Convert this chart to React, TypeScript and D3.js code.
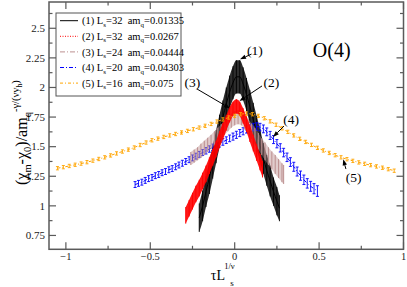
import React from 'react';
import * as d3 from 'd3';

const W = 407;
const H = 287;

const xTicks = [-1, -0.5, 0, 0.5, 1];
const yTicks = [0.75, 1, 1.25, 1.5, 1.75, 2, 2.25, 2.5];

// [tau*L^(1/nu), value, error]
const s1: [number, number, number][] = [
  [-0.21, 0.9, 0.12], [-0.19, 1.0, 0.13], [-0.17, 1.12, 0.13], [-0.15, 1.24, 0.14],
  [-0.13, 1.37, 0.14], [-0.11, 1.5, 0.14], [-0.09, 1.63, 0.14], [-0.07, 1.75, 0.14],
  [-0.05, 1.86, 0.14], [-0.03, 1.96, 0.14], [-0.01, 2.04, 0.14], [0.01, 2.09, 0.14],
  [0.03, 2.09, 0.14], [0.05, 2.03, 0.14], [0.07, 1.94, 0.14], [0.09, 1.84, 0.14],
  [0.11, 1.73, 0.14], [0.13, 1.62, 0.14], [0.15, 1.51, 0.14], [0.17, 1.4, 0.13],
  [0.19, 1.3, 0.13], [0.21, 1.21, 0.13], [0.23, 1.12, 0.12], [0.25, 1.04, 0.12],
  [0.265, 0.98, 0.11],
];

const s2: [number, number, number][] = [
  [-0.29, 0.92, 0.07], [-0.27, 0.98, 0.07], [-0.25, 1.04, 0.07], [-0.23, 1.1, 0.07],
  [-0.21, 1.15, 0.07], [-0.19, 1.21, 0.07], [-0.17, 1.27, 0.07], [-0.15, 1.34, 0.07],
  [-0.13, 1.41, 0.07], [-0.11, 1.48, 0.07], [-0.09, 1.56, 0.07], [-0.07, 1.63, 0.07],
  [-0.05, 1.7, 0.065], [-0.03, 1.77, 0.065], [-0.01, 1.82, 0.06], [0.01, 1.84, 0.06],
  [0.03, 1.82, 0.06], [0.05, 1.76, 0.065], [0.07, 1.69, 0.065], [0.09, 1.61, 0.07],
  [0.11, 1.53, 0.07], [0.13, 1.45, 0.07], [0.15, 1.37, 0.07], [0.165, 1.31, 0.07],
];

const s3: [number, number, number][] = [
  [-0.26, 1.4, 0.055], [-0.24, 1.42, 0.055], [-0.22, 1.44, 0.055], [-0.2, 1.465, 0.06],
  [-0.18, 1.49, 0.06], [-0.16, 1.515, 0.06], [-0.14, 1.54, 0.06], [-0.12, 1.57, 0.06],
  [-0.1, 1.6, 0.06], [-0.08, 1.63, 0.06], [-0.06, 1.66, 0.06], [-0.04, 1.69, 0.06],
  [-0.02, 1.72, 0.06], [0.0, 1.74, 0.06], [0.02, 1.75, 0.06], [0.04, 1.74, 0.06],
  [0.06, 1.71, 0.065], [0.08, 1.67, 0.065], [0.1, 1.63, 0.065], [0.12, 1.59, 0.07],
  [0.14, 1.545, 0.07], [0.16, 1.5, 0.07], [0.18, 1.46, 0.075], [0.2, 1.42, 0.075],
  [0.22, 1.385, 0.075], [0.24, 1.35, 0.08], [0.26, 1.315, 0.08], [0.28, 1.28, 0.08],
  [0.29, 1.265, 0.08],
];

const s4: [number, number, number][] = [
  [-0.59, 1.18, 0.025], [-0.57, 1.19, 0.025], [-0.55, 1.2, 0.025], [-0.53, 1.215, 0.025],
  [-0.51, 1.23, 0.025], [-0.49, 1.24, 0.025], [-0.47, 1.255, 0.025], [-0.45, 1.265, 0.025],
  [-0.43, 1.28, 0.025], [-0.41, 1.29, 0.025], [-0.39, 1.305, 0.025], [-0.37, 1.315, 0.025],
  [-0.35, 1.33, 0.025], [-0.33, 1.345, 0.025], [-0.31, 1.36, 0.025], [-0.29, 1.375, 0.025],
  [-0.27, 1.39, 0.025], [-0.25, 1.405, 0.025], [-0.23, 1.42, 0.025], [-0.21, 1.435, 0.025],
  [-0.19, 1.45, 0.025], [-0.17, 1.465, 0.027], [-0.15, 1.48, 0.027], [-0.13, 1.495, 0.027],
  [-0.11, 1.51, 0.027], [-0.09, 1.525, 0.028], [-0.07, 1.54, 0.028], [-0.05, 1.555, 0.028],
  [-0.03, 1.57, 0.028], [-0.01, 1.585, 0.03], [0.01, 1.6, 0.03], [0.03, 1.615, 0.03],
  [0.05, 1.63, 0.03], [0.07, 1.645, 0.03], [0.09, 1.655, 0.03], [0.11, 1.665, 0.032],
  [0.13, 1.67, 0.032], [0.15, 1.665, 0.032], [0.17, 1.65, 0.033], [0.19, 1.625, 0.033],
  [0.21, 1.595, 0.034], [0.23, 1.56, 0.034], [0.25, 1.525, 0.035], [0.27, 1.49, 0.035],
  [0.29, 1.45, 0.036], [0.31, 1.41, 0.036], [0.33, 1.37, 0.037], [0.35, 1.33, 0.038],
  [0.37, 1.29, 0.038], [0.39, 1.255, 0.039], [0.41, 1.22, 0.04], [0.43, 1.19, 0.04],
  [0.45, 1.165, 0.042], [0.47, 1.145, 0.043], [0.49, 1.125, 0.045],
];

const s5: [number, number, number][] = [
  [-1.05, 1.318, 0.014], [-1.015, 1.327, 0.014], [-0.98, 1.337, 0.014], [-0.945, 1.347, 0.014],
  [-0.91, 1.357, 0.014], [-0.875, 1.369, 0.014], [-0.84, 1.382, 0.014], [-0.805, 1.396, 0.014],
  [-0.77, 1.41, 0.014], [-0.735, 1.426, 0.014], [-0.7, 1.443, 0.014], [-0.665, 1.459, 0.014],
  [-0.63, 1.475, 0.014], [-0.595, 1.493, 0.014], [-0.56, 1.514, 0.014], [-0.525, 1.535, 0.014],
  [-0.49, 1.554, 0.014], [-0.455, 1.568, 0.014], [-0.42, 1.582, 0.014], [-0.385, 1.595, 0.014],
  [-0.35, 1.607, 0.014], [-0.315, 1.62, 0.014], [-0.28, 1.633, 0.014], [-0.245, 1.647, 0.014],
  [-0.21, 1.661, 0.014], [-0.175, 1.676, 0.014], [-0.14, 1.692, 0.014], [-0.105, 1.712, 0.014],
  [-0.07, 1.73, 0.014], [-0.035, 1.746, 0.014], [0.0, 1.76, 0.014], [0.035, 1.774, 0.014],
  [0.07, 1.779, 0.014], [0.105, 1.774, 0.014], [0.14, 1.76, 0.014], [0.175, 1.74, 0.014],
  [0.21, 1.714, 0.014], [0.245, 1.685, 0.014], [0.28, 1.655, 0.014], [0.315, 1.625, 0.014],
  [0.35, 1.595, 0.014], [0.385, 1.566, 0.014], [0.42, 1.54, 0.014], [0.455, 1.515, 0.014],
  [0.49, 1.49, 0.014], [0.525, 1.468, 0.014], [0.56, 1.447, 0.014], [0.595, 1.428, 0.014],
  [0.63, 1.41, 0.014], [0.665, 1.394, 0.014], [0.7, 1.38, 0.014], [0.735, 1.367, 0.014],
  [0.77, 1.355, 0.014], [0.805, 1.344, 0.014], [0.84, 1.333, 0.014], [0.875, 1.322, 0.014],
  [0.91, 1.31, 0.014], [0.945, 1.297, 0.014],
];

const legendIds = ['(1)', '(2)', '(3)', '(4)', '(5)'];
const legendL = ['32', '32', '24', '20', '16'];
const legendAm = ['0.01335', '0.0267', '0.04444', '0.04303', '0.075'];
const legendColors = ['#000000', '#ff0000', '#bc8f8f', '#0000ff', '#ffa500'];
const legendDash = ['none', '1,1.5', '5,2,1,2', '4,2,1,2', '3,2,1,2'];

// annotation labels: [label, labelTau, labelVal, fromTau, fromVal, toTau, toVal]
const annotations: [string, number, number, number, number, number, number][] = [
  ['(1)', 0.12, 2.317, 0.0996, 2.282, 0.0315, 2.238],
  ['(2)', 0.218, 2.046, 0.162, 2.013, 0.0285, 1.886],
  ['(3)', -0.25, 2.046, -0.223, 1.987, -0.028, 1.824],
  ['(4)', 0.334, 1.734, 0.292, 1.674, 0.227, 1.582],
  ['(5)', 0.704, 1.244, 0.659, 1.311, 0.643, 1.393],
];

const FONT = 'Liberation Serif, DejaVu Serif, Times New Roman, serif';

export default function App() {
  const x = d3.scaleLinear().domain([-1.1, 1]).range([49, 403.5]);
  const y = d3.scaleLinear().domain([0.633, 2.722]).range([249.3, 2]);
  const [x0, x1] = x.range();
  const [yb, yt] = y.range();
  const frame = '#5a5a5a';

  const xMinor = d3.range(-1, 1.001, 0.25).filter((v) => !xTicks.some((t) => Math.abs(t - v) < 1e-6));
  const yMinor = d3.range(0.625, 2.75, 0.125).filter(
    (v) => v > 0.634 && v < 2.72 && !yTicks.some((t) => Math.abs(t - v) < 1e-6)
  );

  const band = (data: [number, number, number][]) =>
    d3
      .area<[number, number, number]>()
      .x((d) => x(d[0]))
      .y0((d) => y(d[1] - d[2]))
      .y1((d) => y(d[1] + d[2]))
      .curve(d3.curveMonotoneX)(data) || '';
  const line = (data: [number, number, number][]) =>
    d3
      .line<[number, number, number]>()
      .x((d) => x(d[0]))
      .y((d) => y(d[1]))
      .curve(d3.curveMonotoneX)(data) || '';

  const bars = (data: [number, number, number][], color: string, cap: number, sw: number, key: string) =>
    data.map((d, i) => (
      <g key={key + i}>
        <line x1={x(d[0])} x2={x(d[0])} y1={y(d[1] - d[2])} y2={y(d[1] + d[2])} stroke={color} strokeWidth={sw} />
        {cap > 0 && (
          <>
            <line x1={x(d[0]) - cap} x2={x(d[0]) + cap} y1={y(d[1] - d[2])} y2={y(d[1] - d[2])} stroke={color} strokeWidth={sw} />
            <line x1={x(d[0]) - cap} x2={x(d[0]) + cap} y1={y(d[1] + d[2])} y2={y(d[1] + d[2])} stroke={color} strokeWidth={sw} />
          </>
        )}
      </g>
    ));

  const arrow = (fx: number, fy: number, tx: number, ty: number, key: string) => {
    const ang = Math.atan2(ty - fy, tx - fx);
    const len = 6;
    const wdt = 2.2;
    const bx = tx - len * Math.cos(ang);
    const by = ty - len * Math.sin(ang);
    const px = -Math.sin(ang) * wdt;
    const py = Math.cos(ang) * wdt;
    return (
      <g key={key}>
        <line x1={fx} y1={fy} x2={bx} y2={by} stroke="#000" strokeWidth={1} />
        <path d={`M${tx},${ty}L${bx + px},${by + py}L${bx - px},${by - py}Z`} fill="#000" />
      </g>
    );
  };

  const cx = (x0 + x1) / 2;
  const cy = (yb + yt) / 2;

  return (
    <svg width={W} height={H} style={{ position: 'absolute', left: 0, top: 0, background: '#fff', fontFamily: FONT }}>
      <rect x={0} y={0} width={W} height={H} fill="#fff" />
      <defs>
        <clipPath id="plot">
          <rect x={x0} y={yt} width={x1 - x0} height={yb - yt} />
        </clipPath>
      </defs>

      <g clipPath="url(#plot)">
        {/* series 1 black */}
        <path d={band(s1)} fill="#2e2e2e" />
        {bars(s1, '#000', 0, 0.9, 'b1')}
        <path d={line(s1)} fill="none" stroke="#000" strokeWidth={1} />

        {/* series 4 blue */}
        <path d={line(s4)} fill="none" stroke="#0000ff" strokeWidth={1} strokeDasharray="4,2,1,2" />
        {bars(s4, '#0000ff', 1.5, 0.9, 'b4')}

        {/* series 3 rosy brown */}
        <path d={band(s3)} fill="#bc8f8f" fillOpacity={0.45} />
        {bars(s3, '#bc8f8f', 0, 1, 'b3')}

        {/* series 2 red */}
        <path d={band(s2)} fill="#ff0000" fillOpacity={0.9} />
        {bars(s2, '#ff0000', 0, 1, 'b2')}

        {/* series 5 orange */}
        <path d={line(s5)} fill="none" stroke="#ffa500" strokeWidth={1} strokeDasharray="3,2,1,2" />
        {bars(s5, '#ffa500', 1.5, 0.9, 'b5')}
      </g>

      {/* frame */}
      <rect x={x0} y={yt} width={x1 - x0} height={yb - yt} fill="none" stroke={frame} strokeWidth={1.5} />

      {/* ticks */}
      {xTicks.map((t) => (
        <g key={'xt' + t}>
          <line x1={x(t)} x2={x(t)} y1={yb} y2={yb - 7} stroke={frame} strokeWidth={1.2} />
          <line x1={x(t)} x2={x(t)} y1={yt} y2={yt + 7} stroke={frame} strokeWidth={1.2} />
          <text x={x(t)} y={yb + 11} fontSize={10.5} textAnchor="middle" fill="#222">
            {d3.format('')(t)}
          </text>
        </g>
      ))}
      {xMinor.map((t) => (
        <g key={'xm' + t}>
          <line x1={x(t)} x2={x(t)} y1={yb} y2={yb - 3.5} stroke={frame} strokeWidth={1.2} />
          <line x1={x(t)} x2={x(t)} y1={yt} y2={yt + 3.5} stroke={frame} strokeWidth={1.2} />
        </g>
      ))}
      {yTicks.map((t) => (
        <g key={'yt' + t}>
          <line x1={x0} x2={x0 + 7} y1={y(t)} y2={y(t)} stroke={frame} strokeWidth={1.2} />
          <line x1={x1} x2={x1 - 7} y1={y(t)} y2={y(t)} stroke={frame} strokeWidth={1.2} />
          <text x={x0 - 4} y={y(t) + 3.8} fontSize={11} textAnchor="end" fill="#222">
            {d3.format('')(t)}
          </text>
        </g>
      ))}
      {yMinor.map((t) => (
        <g key={'ym' + t}>
          <line x1={x0} x2={x0 + 3.5} y1={y(t)} y2={y(t)} stroke={frame} strokeWidth={1.2} />
          <line x1={x1} x2={x1 - 3.5} y1={y(t)} y2={y(t)} stroke={frame} strokeWidth={1.2} />
        </g>
      ))}

      {/* axis labels */}
      <text x={cx - 15.5} y={279.5} fontSize={14} fill="#000">τL</text>
      <text x={cx + 4} y={285.5} fontSize={9} fill="#000">s</text>
      <text x={cx - 2} y={268.5} fontSize={8.5} fill="#000">1/ν</text>

      <text transform={`translate(27,${cy + 7}) rotate(-90)`} textAnchor="middle" fill="#000" fontSize={16}>
        <tspan>(χ</tspan>
        <tspan fontSize={10.5} dy={4}>m</tspan>
        <tspan dy={-4}>-χ</tspan>
        <tspan fontSize={10.5} dy={4}>0</tspan>
        <tspan dy={-4}>)/am</tspan>
        <tspan fontSize={10.5} dy={4}>q</tspan>
        <tspan fontSize={10.5} dy={-12}>-γ/(νy</tspan>
        <tspan fontSize={7.5} dy={3}>h</tspan>
        <tspan fontSize={10.5} dy={-3}>)</tspan>
      </text>

      {/* legend */}
      <rect x={56} y={13} width={125} height={83} fill="#fff" stroke="#555" strokeWidth={1} />
      {legendIds.map((id, i) => {
        const ly = 20.7 + i * 15.6;
        return (
          <g key={'lg' + i}>
            <line x1={60} x2={78} y1={ly} y2={ly} stroke={legendColors[i]} strokeWidth={1} strokeDasharray={legendDash[i]} />
            <text x={82} y={ly + 3.6} fontSize={10.5} fill="#000" style={{ whiteSpace: 'pre' }}>
              <tspan>{id + ' L'}</tspan>
              <tspan fontSize={7} dy={2.5}>s</tspan>
              <tspan dy={-2.5}>{'=' + legendL[i] + '  am'}</tspan>
              <tspan fontSize={7} dy={2.5}>q</tspan>
              <tspan dy={-2.5}>{'=' + legendAm[i]}</tspan>
            </text>
          </g>
        );
      })}

      {/* title */}
      <text x={x(0.575)} y={y(2.317)} dy="0.35em" fontSize={20} textAnchor="middle" fill="#000">O(4)</text>

      {/* annotations */}
      {annotations.map((a, i) => (
        <g key={'an' + i}>
          <text x={x(a[1])} y={y(a[2])} dy="0.35em" fontSize={13.5} textAnchor="middle" fill="#000">{a[0]}</text>
          {arrow(x(a[3]), y(a[4]), x(a[5]), y(a[6]), 'ar' + i)}
        </g>
      ))}
    </svg>
  );
}
